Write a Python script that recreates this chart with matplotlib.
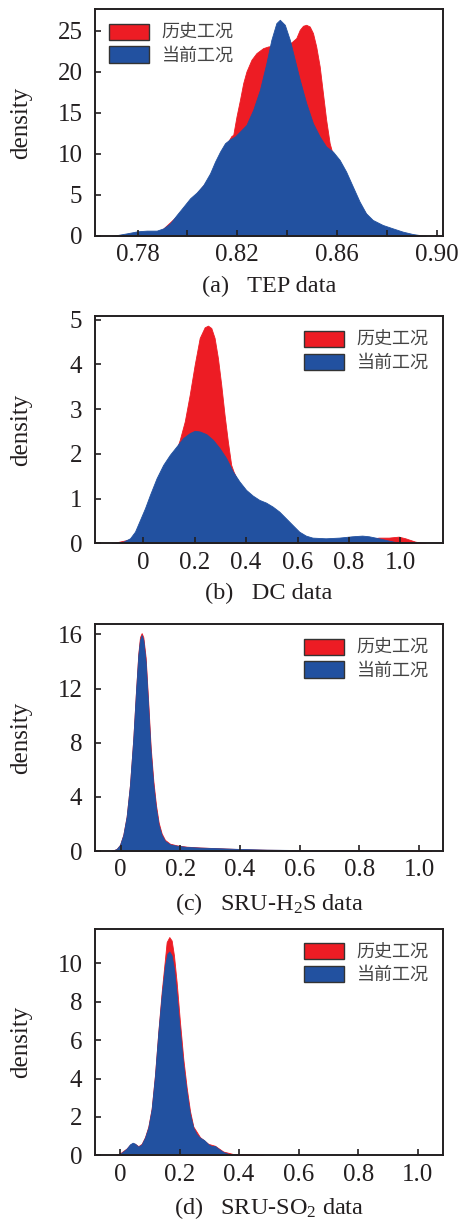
import numpy as np
import matplotlib.pyplot as plt
from matplotlib.ticker import FixedLocator

plt.rcParams['font.family'] = ['Liberation Serif', 'Noto Sans CJK SC']
plt.rcParams['mathtext.fontset'] = 'custom'
plt.rcParams['mathtext.rm'] = 'Liberation Serif'
plt.rcParams['mathtext.it'] = 'Liberation Serif'

RED = '#ed1c24'
BLUE = '#2251a0'
INK = '#231f20'
names = ['历史工况', '当前工况']

# (a) TEP data - density curves
tep_x_cur = [0.7697, 0.7757, 0.78, 0.7837, 0.7877, 0.7904, 0.7931, 0.7957, 0.7984, 0.8011,
             0.8037, 0.8064, 0.8091, 0.8111, 0.8131, 0.8151, 0.8171, 0.8191, 0.8211, 0.8237,
             0.8264, 0.8291, 0.8317, 0.8337, 0.8357, 0.8371, 0.8391, 0.8411, 0.8431, 0.8451,
             0.8477, 0.8504, 0.8531, 0.8557, 0.8584, 0.8611, 0.8637, 0.8664, 0.8691, 0.8717,
             0.8744, 0.8784, 0.8824, 0.8864, 0.8904, 0.8957]
tep_y_cur = [0.0, 0.32, 0.57, 0.65, 0.65, 0.93, 1.54, 2.56, 3.57, 4.59,
             5.28, 6.21, 7.63, 9.05, 10.27, 11.29, 11.77, 12.10, 12.71, 13.52,
             15.35, 17.78, 21.03, 23.87, 25.90, 26.31, 25.70, 23.87, 21.44, 19.01,
             16.16, 13.72, 12.10, 10.88, 10.27, 9.26, 7.84, 6.01, 4.19, 2.76,
             1.95, 1.34, 0.93, 0.53, 0.24, 0.0]
tep_x_his = [0.7871, 0.7984, 0.8091, 0.8151, 0.8177, 0.8184, 0.8197, 0.8211, 0.8224, 0.8237,
             0.8257, 0.8277, 0.8304, 0.8324, 0.8371, 0.8417, 0.8437, 0.8451, 0.8464, 0.8477,
             0.8491, 0.8504, 0.8517, 0.8531, 0.8544, 0.8557, 0.8571, 0.8584, 0.8637, 0.8691,
             0.8744, 0.8797, 0.8824]
tep_y_his = [0.0, 3.17, 7.15, 10.88, 12.18, 12.30, 14.53, 16.57, 18.60, 20.02,
             21.44, 22.25, 22.86, 23.06, 23.26, 23.55, 24.08, 25.09, 25.58, 25.70,
             25.49, 24.69, 23.06, 20.63, 17.38, 14.13, 11.29, 9.87, 7.43, 3.78,
             1.54, 0.32, 0.0]

# (b) DC data
dc_x_cur = [-0.1226, -0.0774, -0.0516, -0.0323, -0.0129, 0.0065, 0.0258, 0.0516, 0.0774, 0.1032,
            0.129, 0.1548, 0.1806, 0.2, 0.2194, 0.2452, 0.271, 0.2968, 0.3226, 0.3484,
            0.3742, 0.4, 0.4258, 0.4516, 0.4774, 0.5032, 0.529, 0.5548, 0.5806, 0.6065,
            0.6323, 0.6581, 0.7097, 0.7613, 0.8129, 0.8516, 0.8774, 0.9161, 0.9548, 0.9935,
            1.0323]
dc_y_cur = [0.0, 0.037, 0.112, 0.261, 0.522, 0.784, 1.082, 1.455, 1.754, 1.978,
            2.164, 2.351, 2.463, 2.515, 2.5, 2.44, 2.313, 2.127, 1.903, 1.604,
            1.381, 1.194, 1.067, 0.97, 0.91, 0.821, 0.709, 0.56, 0.41, 0.261,
            0.172, 0.127, 0.112, 0.127, 0.157, 0.172, 0.157, 0.112, 0.06, 0.015,
            0.0]
dc_x_his = [-0.1226, -0.0323, 0.0258, 0.0903, 0.129, 0.1419, 0.1613, 0.1806, 0.2, 0.2194,
            0.2387, 0.2516, 0.2645, 0.2774, 0.2903, 0.3032, 0.3161, 0.329, 0.3419, 0.351,
            0.3742, 0.4516, 0.5548, 0.6323, 0.7355, 0.8516, 0.9161, 0.9548, 0.9935, 1.0194,
            1.0581, 1.0968]
dc_y_his = [0.0, 0.112, 0.78, 1.67, 2.09, 2.313, 2.724, 3.321, 3.993, 4.59,
            4.828, 4.866, 4.813, 4.59, 4.142, 3.545, 2.873, 2.276, 1.754, 1.604,
            1.306, 0.896, 0.485, 0.112, 0.052, 0.075, 0.127, 0.127, 0.149, 0.112,
            0.037, 0.0]

# (c) SRU-H2S data
h2s_x_cur = [-0.0302, -0.0134, -0.0022, 0.0089, 0.0201, 0.0313, 0.0425, 0.0514, 0.0592, 0.0648,
             0.0704, 0.076, 0.0838, 0.0927, 0.1006, 0.1095, 0.1184, 0.1274, 0.1374, 0.1486,
             0.1654, 0.1877, 0.2212, 0.2659, 0.333, 0.4, 0.4894, 0.6011, 0.712, 0.8, 0.9, 0.95]
h2s_y_cur = [0.0, 0.148, 0.443, 1.182, 2.537, 4.877, 8.325, 11.77, 14.48, 15.59,
             15.96, 15.59, 13.99, 10.54, 7.34, 4.88, 3.15, 1.92, 1.18, 0.74,
             0.49, 0.39, 0.30, 0.25, 0.20, 0.15, 0.10, 0.07, 0.05, 0.03, 0.01, 0.0]
h2s_x_his = [-0.0302, -0.0134, -0.0022, 0.0089, 0.0201, 0.0313, 0.0425, 0.0514, 0.0592, 0.0648,
             0.0704, 0.076, 0.0838, 0.0927, 0.1006, 0.1095, 0.1184, 0.1274, 0.1374, 0.1486,
             0.1654, 0.1877, 0.2212, 0.2659, 0.333, 0.4, 0.4894, 0.6011, 0.712, 0.824, 0.95, 1.04]
h2s_y_his = [0.0, 0.15, 0.45, 1.2, 2.55, 4.9, 8.35, 11.8, 14.6, 15.8,
             16.1, 15.8, 14.3, 10.9, 7.7, 5.2, 3.4, 2.1, 1.3, 0.82,
             0.54, 0.42, 0.32, 0.26, 0.2, 0.14, 0.09, 0.07, 0.07, 0.07, 0.06, 0.0]

# (d) SRU-SO2 data
so2_x_cur = [-0.0056, 0.0056, 0.0224, 0.0336, 0.0426, 0.0504, 0.0616, 0.0728, 0.084, 0.0952,
             0.1064, 0.1176, 0.1288, 0.14, 0.1512, 0.159, 0.1657, 0.1736, 0.1814, 0.1904,
             0.2016, 0.2128, 0.224, 0.2352, 0.2464, 0.2576, 0.2688, 0.2822, 0.2968, 0.308,
             0.3191, 0.3303, 0.3471, 0.3695, 0.3919]
so2_y_cur = [0.0, 0.139, 0.348, 0.574, 0.661, 0.609, 0.452, 0.574, 0.922, 1.443,
             2.4, 4.14, 6.4, 8.31, 9.88, 10.49, 10.61, 10.4, 9.7, 8.31,
             6.4, 4.66, 3.27, 2.14, 1.44, 1.10, 0.92, 0.80, 0.574, 0.487,
             0.487, 0.348, 0.174, 0.052, 0.0]
so2_x_his = [-0.0112, 0.0056, 0.0224, 0.0336, 0.0426, 0.0504, 0.0616, 0.0728, 0.084, 0.0952,
             0.1064, 0.1176, 0.1288, 0.14, 0.1512, 0.1568, 0.1657, 0.1736, 0.1814, 0.1904,
             0.2016, 0.2128, 0.224, 0.2352, 0.2464, 0.2688, 0.2968, 0.3191, 0.3471, 0.3807,
             0.4031, 0.4479, 0.4815]
so2_y_his = [0.0, 0.17, 0.36, 0.55, 0.62, 0.6, 0.48, 0.6, 0.95, 1.5,
             2.45, 4.2, 6.45, 8.5, 10.23, 11.1, 11.36, 11.18, 10.4, 9.0,
             6.92, 5.01, 3.53, 2.31, 1.5, 0.95, 0.6, 0.5, 0.2, 0.07,
             0.07, 0.07, 0.0]

panels = [
    dict(his=(tep_x_his, tep_y_his), cur=(tep_x_cur, tep_y_cur),
         xlim=(0.7629, 0.9026), ylim=(0, 27.6),
         xticks=[0.78, 0.82, 0.86, 0.90], xlabels=['0.78', '0.82', '0.86', '0.90'],
         xminor=[0.80, 0.84, 0.88], yticks=[0, 5, 10, 15, 20, 25],
         title='(a)   TEP data', loc='upper left', pos=0.8069),
    dict(his=(dc_x_his, dc_y_his), cur=(dc_x_cur, dc_y_cur),
         xlim=(-0.188, 1.166), ylim=(0, 5.07),
         xticks=[0, 0.2, 0.4, 0.6, 0.8, 1.0], xlabels=['0', '0.2', '0.4', '0.6', '0.8', '1.0'],
         xminor=[], yticks=[0, 1, 2, 3, 4, 5],
         title='(b)   DC data', loc='upper right', pos=0.5554),
    dict(his=(h2s_x_his, h2s_y_his), cur=(h2s_x_cur, h2s_y_cur),
         xlim=(-0.086, 1.08), ylim=(0, 16.76),
         xticks=[0, 0.2, 0.4, 0.6, 0.8, 1.0], xlabels=['0', '0.2', '0.4', '0.6', '0.8', '1.0'],
         xminor=[], yticks=[0, 4, 8, 12, 16],
         title='(c)   SRU-H$_2$S data', loc='upper right', pos=0.3036),
    dict(his=(so2_x_his, so2_y_his), cur=(so2_x_cur, so2_y_cur),
         xlim=(-0.084, 1.085), ylim=(0, 11.8),
         xticks=[0, 0.2, 0.4, 0.6, 0.8, 1.0], xlabels=['0', '0.2', '0.4', '0.6', '0.8', '1.0'],
         xminor=[], yticks=[0, 2, 4, 6, 8, 10],
         title='(d)   SRU-SO$_2$ data', loc='upper right', pos=0.0545),
]

fig = plt.figure(figsize=(4.61, 12.22), dpi=100)

for p in panels:
    ax = fig.add_axes([0.206, p['pos'], 0.755, 0.1856])
    hx, hy = p['his']
    cx, cy = p['cur']
    ax.fill_between(hx, hy, 0, color=RED, lw=0.6, label=names[0])
    ax.fill_between(cx, cy, 0, color=BLUE, lw=0.6, label=names[1])
    ax.set_xlim(*p['xlim'])
    ax.set_ylim(*p['ylim'])
    ax.set_xticks(p['xticks'])
    ax.set_xticklabels(p['xlabels'])
    ax.xaxis.set_minor_locator(FixedLocator(p['xminor']))
    ax.set_yticks(p['yticks'])
    ax.tick_params(which='both', direction='in', length=4, width=1.2, color=INK,
                   labelsize=18, labelcolor=INK)
    ax.tick_params(axis='x', pad=6)
    ax.tick_params(axis='y', pad=9)
    for s in ax.spines.values():
        s.set_linewidth(1.4)
        s.set_color(INK)
    ax.set_ylabel('density', fontsize=18, color=INK)
    ax.yaxis.set_label_coords(-0.181, 0.5)
    ax.set_xlabel(p['title'], fontsize=17.5, color=INK, labelpad=7)
    leg = ax.legend(loc=p['loc'], frameon=False, prop={'family': 'Noto Sans CJK SC', 'size': 13},
                    handlelength=2.2, handleheight=1.0, handletextpad=0.7,
                    labelspacing=0.25, borderaxespad=0.4)
    for h in leg.legend_handles:
        h.set_edgecolor('#333333')
        h.set_linewidth(1.0)
    for t in leg.get_texts():
        t.set_color('#444444')

plt.savefig('out.png', dpi=100)
